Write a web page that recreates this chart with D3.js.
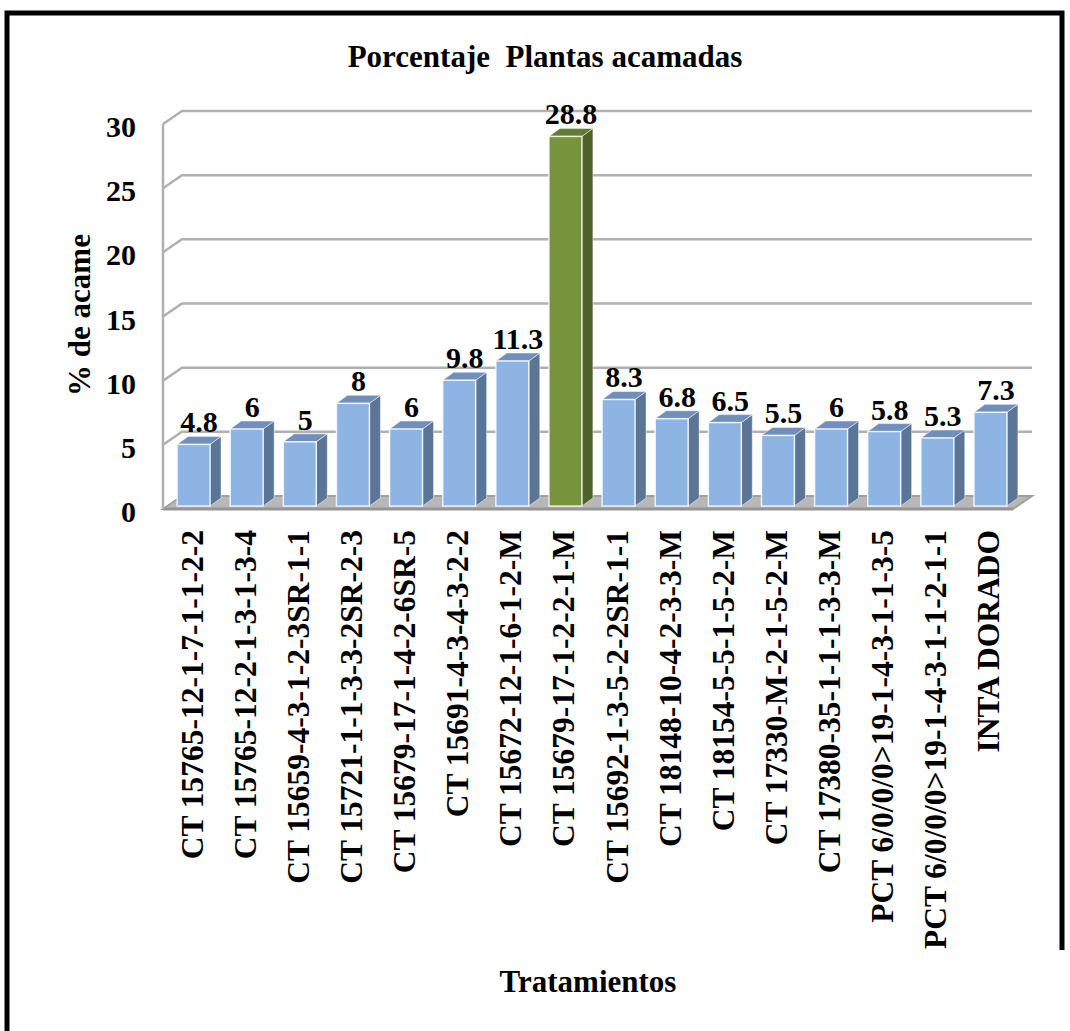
<!DOCTYPE html>
<html>
<head>
<meta charset="utf-8">
<script src="https://cdn.jsdelivr.net/npm/d3@7"></script>
<style>
  body { margin: 0; background: #fff; }
  svg text { font-family: "Liberation Serif", "Times New Roman", serif; font-weight: bold; fill: #000; }
</style>
</head>
<body>
<svg id="chart" width="1070" height="1031"></svg>
<script>
// data
const categories = [
    'CT 15765-12-1-7-1-1-2-2',
    'CT 15765-12-2-1-3-1-3-4',
    'CT 15659-4-3-1-2-3SR-1-1',
    'CT 15721-1-1-3-3-2SR-2-3',
    'CT 15679-17-1-4-2-6SR-5',
    'CT 15691-4-3-4-3-2-2',
    'CT 15672-12-1-6-1-2-M',
    'CT 15679-17-1-2-2-1-M',
    'CT 15692-1-3-5-2-2SR-1-1',
    'CT 18148-10-4-2-3-3-M',
    'CT 18154-5-5-1-5-2-M',
    'CT 17330-M-2-1-5-2-M',
    'CT 17380-35-1-1-1-3-3-M',
    'PCT 6/0/0/0>19-1-4-3-1-1-3-5',
    'PCT 6/0/0/0>19-1-4-3-1-1-2-1-1',
    'INTA DORADO'
];
const values = [4.8, 6, 5, 8, 6, 9.8, 11.3, 28.8, 8.3, 6.8, 6.5, 5.5, 6, 5.8, 5.3, 7.3];
const labels = ['4.8', '6', '5', '8', '6', '9.8', '11.3', '28.8', '8.3', '6.8', '6.5', '5.5', '6', '5.8', '5.3', '7.3'];
const highlighted = ['CT 15679-17-1-2-2-1-M'];
const yTicks = [0, 5, 10, 15, 20, 25, 30];

const svg = d3.select('#chart');

/**
 * Plot area of the front plane and the depth of the 3d box
 */
const plot = { left: 163, right: 1013, top: 124, bottom: 509 };
const depth = { dx: 19, dy: -13 };
const barShift = { dx: 4, dy: -3 };   // bars sit a bit behind the front plane
const barDepth = { dx: 11, dy: -8 };

const xScale = d3.scaleBand()
    .domain(categories)
    .range([plot.left, plot.right])
    .paddingInner(0.38)
    .paddingOuter(0.19);

const yScale = d3.scaleLinear()
    .domain([0, 30])
    .range([plot.bottom, plot.top]);

const colors = {
    blue: { front: '#8db4e3', side: '#5b7597', top: '#7090bb' },
    green: { front: '#77933c', side: '#4f6228', top: '#637c33' }
};

// outer frame
svg.append('path')
    .attr('d', 'M7,1031 V13 H1062 V950')
    .attr('fill', 'none')
    .attr('stroke', '#000')
    .attr('stroke-width', 5);

// floor
const floor = [
    [plot.left, plot.bottom],
    [plot.right, plot.bottom],
    [plot.right + depth.dx, plot.bottom + depth.dy],
    [plot.left + depth.dx, plot.bottom + depth.dy]
];
svg.append('polygon')
    .attr('points', floor.map((p) => p.join(',')).join(' '))
    .attr('fill', '#b8b8b8')
    .attr('stroke', '#a0a0a0')
    .attr('stroke-width', 2);
svg.append('line')
    .attr('x1', plot.left).attr('x2', plot.right)
    .attr('y1', plot.bottom).attr('y2', plot.bottom)
    .attr('stroke', '#959595')
    .attr('stroke-width', 3);

// gridlines on back wall with the side diagonals
const grid = svg.append('g').attr('class', 'grid');
grid.selectAll('.gridline')
    .data(yTicks.filter((d) => d > 0))
    .enter()
    .append('path')
    .attr('class', 'gridline')
    .attr('d', (d) => {
        const y = yScale(d);
        return 'M' + plot.left + ',' + y +
            ' L' + (plot.left + depth.dx) + ',' + (y + depth.dy) +
            ' H' + (plot.right + depth.dx);
    })
    .attr('fill', 'none')
    .attr('stroke', '#b0b0b0')
    .attr('stroke-width', 2.5);

// left wall edge
svg.append('line')
    .attr('x1', plot.left).attr('x2', plot.left)
    .attr('y1', yScale(30)).attr('y2', plot.bottom)
    .attr('stroke', '#b0b0b0')
    .attr('stroke-width', 2.5);

// tick labels
svg.selectAll('.y_tick')
    .data(yTicks)
    .enter()
    .append('text')
    .attr('class', 'y_tick')
    .attr('x', 136)
    .attr('y', (d) => yScale(d) + 13)
    .attr('text-anchor', 'end')
    .style('font-size', '30px')
    .text((d) => d);

// bars
const bars = svg.selectAll('.bar')
    .data(categories.map((c, i) => ({ cat: c, value: values[i], label: labels[i] })))
    .enter()
    .append('g')
    .attr('class', 'bar');

bars.each(function (d) {
    const g = d3.select(this);
    const col = highlighted.includes(d.cat) ? colors.green : colors.blue;
    const w = xScale.bandwidth();
    const x0 = xScale(d.cat) + barShift.dx;
    const yb = yScale(0) + barShift.dy;
    const yt = yScale(d.value) + barShift.dy;
    const ddx = barDepth.dx, ddy = barDepth.dy;

    g.append('polygon')
        .attr('points', [[x0 + w, yt], [x0 + w + ddx, yt + ddy], [x0 + w + ddx, yb + ddy], [x0 + w, yb]]
            .map((p) => p.join(',')).join(' '))
        .attr('fill', col.side)
        .attr('stroke', '#fff')
        .attr('stroke-width', 0.8)
        .attr('stroke-opacity', 0.6);
    g.append('polygon')
        .attr('points', [[x0, yt], [x0 + ddx, yt + ddy], [x0 + w + ddx, yt + ddy], [x0 + w, yt]]
            .map((p) => p.join(',')).join(' '))
        .attr('fill', col.top)
        .attr('stroke', '#fff')
        .attr('stroke-width', 0.8)
        .attr('stroke-opacity', 0.6);
    g.append('rect')
        .attr('x', x0)
        .attr('y', yt)
        .attr('width', w)
        .attr('height', yb - yt)
        .attr('fill', col.front)
        .attr('stroke', '#fff')
        .attr('stroke-width', 1.5)
        .attr('stroke-opacity', 0.8);

    g.append('text')
        .attr('x', x0 + (w + ddx) / 2)
        .attr('y', yt - 12)
        .attr('text-anchor', 'middle')
        .style('font-size', '30px')
        .text(d.label);
});

// category labels
svg.selectAll('.x_label')
    .data(categories)
    .enter()
    .append('text')
    .attr('class', 'x_label')
    .attr('transform', (d) => 'translate(' + (xScale(d) + xScale.bandwidth() / 2 + 13) + ',530) rotate(-90)')
    .attr('text-anchor', 'end')
    .style('font-size', '31.5px')
    .text((d) => d);

// titles
svg.append('text')
    .attr('x', 545)
    .attr('y', 67)
    .attr('text-anchor', 'middle')
    .style('font-size', '31px')
    .style('white-space', 'pre')
    .text('Porcentaje  Plantas acamadas');

svg.append('text')
    .attr('transform', 'translate(90,315) rotate(-90)')
    .attr('text-anchor', 'middle')
    .style('font-size', '31px')
    .text('% de acame');

svg.append('text')
    .attr('x', 588)
    .attr('y', 992)
    .attr('text-anchor', 'middle')
    .style('font-size', '31px')
    .text('Tratamientos');
</script>
</body>
</html>
